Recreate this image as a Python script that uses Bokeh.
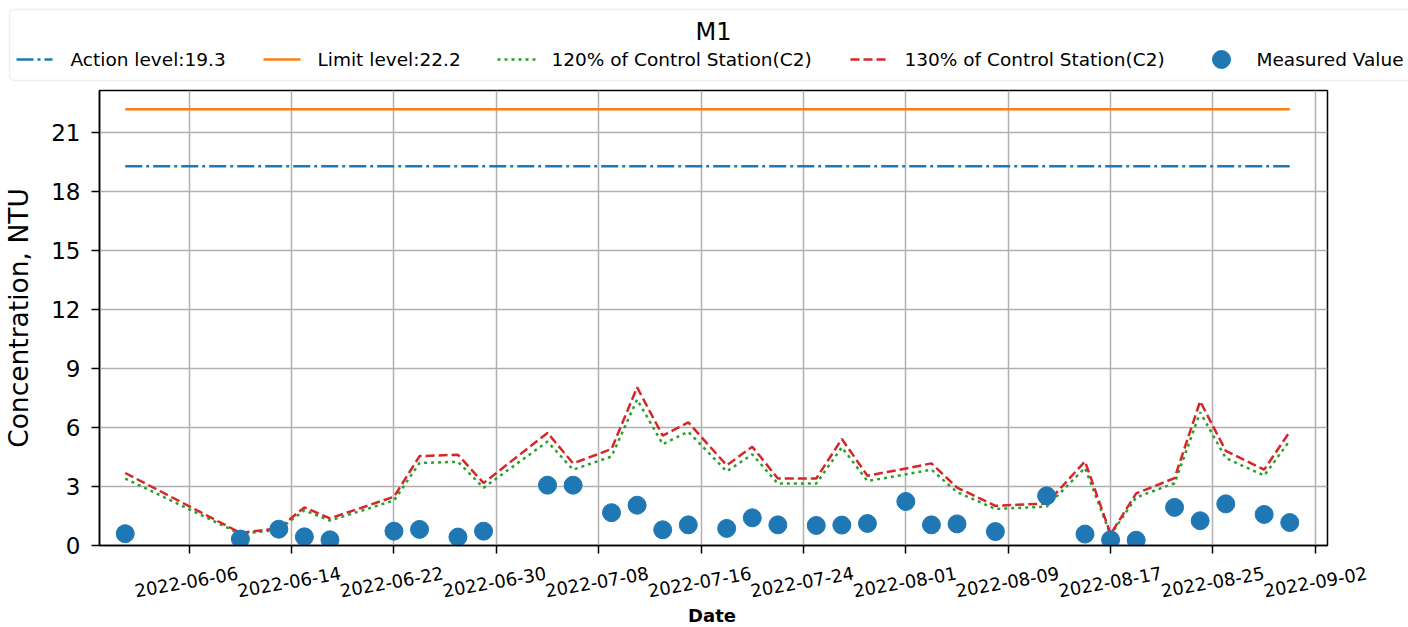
import math
import pandas as pd
from bokeh.plotting import figure
from bokeh.models import Range1d, FixedTicker, BoxAnnotation, CustomJSTickFormatter
from bokeh.layouts import column, row
from bokeh.embed import file_html
from bokeh.resources import INLINE
from bokeh.core.properties import value

# ---------------- data ----------------
chart_title = "M1"
dates = ["2022-06-01", "2022-06-10", "2022-06-13", "2022-06-15", "2022-06-17",
         "2022-06-22", "2022-06-24", "2022-06-27", "2022-06-29", "2022-07-04",
         "2022-07-06", "2022-07-09", "2022-07-11", "2022-07-13", "2022-07-15",
         "2022-07-18", "2022-07-20", "2022-07-22", "2022-07-25", "2022-07-27",
         "2022-07-29", "2022-08-01", "2022-08-03", "2022-08-05", "2022-08-08",
         "2022-08-12", "2022-08-15", "2022-08-17", "2022-08-19", "2022-08-22",
         "2022-08-24", "2022-08-26", "2022-08-29", "2022-08-31"]
measured = [0.60, 0.33, 0.83, 0.44, 0.29, 0.73, 0.82, 0.43, 0.73, 3.07,
            3.07, 1.67, 2.05, 0.80, 1.05, 0.87, 1.41, 1.05, 1.02, 1.04,
            1.12, 2.24, 1.05, 1.10, 0.71, 2.53, 0.58, 0.29, 0.27, 1.94,
            1.26, 2.12, 1.58, 1.17]
c2_120 = [3.41, 0.59, 0.81, 1.79, 1.27, 2.29, 4.20, 4.26, 2.94, 5.29,
          3.86, 4.53, 7.43, 5.16, 5.79, 3.77, 4.64, 3.15, 3.15, 5.00,
          3.28, 3.62, 3.86, 2.72, 1.86, 1.98, 3.95, 0.54, 2.45, 3.17,
          6.78, 4.45, 3.56, 5.34]
c2_130 = [3.69, 0.64, 0.88, 1.94, 1.38, 2.48, 4.55, 4.62, 3.18, 5.73,
          4.18, 4.91, 8.05, 5.59, 6.27, 4.08, 5.03, 3.41, 3.41, 5.42,
          3.55, 3.92, 4.18, 2.95, 2.02, 2.14, 4.28, 0.58, 2.65, 3.43,
          7.34, 4.82, 3.86, 5.79]
action_level = 19.3
limit_level = 22.2
legend_labels = ["Action level:19.3", "Limit level:22.2",
                 "120% of Control Station(C2)", "130% of Control Station(C2)",
                 "Measured Value"]
x_tick_labels = ["2022-06-06", "2022-06-14", "2022-06-22", "2022-06-30",
                 "2022-07-08", "2022-07-16", "2022-07-24", "2022-08-01",
                 "2022-08-09", "2022-08-17", "2022-08-25", "2022-09-02"]
y_ticks = [0, 3, 6, 9, 12, 15, 18, 21]
x_label = "Date"
y_label = "Concentration, NTU"

# ---------------- helpers ----------------
FONT = "DejaVu Sans"
BLUE, ORANGE, GREEN, RED = "#1f77b4", "#ff7f0e", "#2ca02c", "#d62728"
EPOCH = pd.Timestamp("1970-01-01")
DAY_MS = 86400000.0
LW = 2.5


def to_ms(s):
    return (pd.Timestamp(s) - EPOCH) / pd.Timedelta(milliseconds=1)


date_ms = [to_ms(d) for d in dates]
xt_ms = [to_ms(d) for d in x_tick_labels]
x0 = to_ms("2022-06-06") - 7.01 * DAY_MS
x1 = to_ms("2022-06-06") + 88.95 * DAY_MS
y_top = 23.16

# geometry (page pixels; bokeh page has no body margin)
TOTAL_W = 1408
LEG_H = 88
LEFT_W = 48
BORDER_L = 48
BORDER_R = 81
MAIN_W = TOTAL_W - LEFT_W
BORDER_T = 2
FRAME_H = 455
BORDER_B = 15
MAIN_H = BORDER_T + FRAME_H + BORDER_B
BOT_H = 627 - LEG_H - MAIN_H
FRAME_W = MAIN_W - BORDER_L - BORDER_R


def blank(fig):
    fig.outline_line_color = None
    fig.background_fill_color = "white"
    fig.border_fill_color = "white"
    return fig


# ---------------- legend figure ----------------
lg = blank(figure(width=TOTAL_W, height=LEG_H, x_range=Range1d(0, TOTAL_W),
                  y_range=Range1d(LEG_H, 0), x_axis_type=None, y_axis_type=None,
                  output_backend="svg", toolbar_location=None, min_border=0,
                  frame_align=False))
lg.add_layout(BoxAnnotation(left=9, right=1450, top=9, bottom=80, fill_color=None,
                            line_color="#cccccc", line_width=1.5, border_radius=5))
ly = 59
lg.line([16, 52], [ly, ly], color=BLUE, line_width=LW, line_dash="17 4 3 4")
lg.line([263, 300], [ly, ly], color=ORANGE, line_width=LW)
lg.line([497, 535], [ly, ly], color=GREEN, line_width=LW, line_dash="3 4")
lg.line([850, 888], [ly, ly], color=RED, line_width=LW, line_dash="9 4")
lg.scatter([1221], [ly], size=18, color=BLUE)
lg.text(x=[70, 317, 551, 904, 1256], y=[ly] * 5, text=legend_labels,
        text_font=value(FONT), text_font_size="18.5px", text_color="black",
        text_baseline="middle", text_align="left")
lg.text(x=[713], y=[31], text=[chart_title], text_font=value(FONT),
        text_font_size="24px", text_color="black", text_baseline="middle",
        text_align="center")

# ---------------- main figure ----------------
y_range = Range1d(0, y_top)
p = figure(width=MAIN_W, height=MAIN_H, x_axis_type="datetime",
           x_range=Range1d(x0, x1), y_range=y_range,
           output_backend="svg", toolbar_location=None,
           min_border_left=BORDER_L, min_border_right=BORDER_R, min_border_top=BORDER_T,
           min_border_bottom=BORDER_B, frame_align=False)
p.background_fill_color = "white"
p.border_fill_color = "white"
p.outline_line_color = "black"
p.outline_line_width = 1.5
p.outline_line_alpha = 1.0

xt = FixedTicker(ticks=xt_ms)
yt = FixedTicker(ticks=y_ticks)
p.xaxis.ticker = xt
p.yaxis.ticker = yt
p.xgrid.ticker = xt
p.ygrid.ticker = yt
for g in (p.xgrid, p.ygrid):
    g.grid_line_color = "#b0b0b0"
    g.grid_line_width = 1.5

p.xaxis.formatter = CustomJSTickFormatter(code="return ''")
p.xaxis.major_label_text_font_size = "0px"
p.xaxis.major_label_standoff = 0
for ax in (p.xaxis, p.yaxis):
    ax.axis_line_color = "black"
    ax.axis_line_width = 1.5
    ax.major_tick_line_color = "black"
    ax.major_tick_line_width = 1.5
    ax.major_tick_out = 8
    ax.major_tick_in = 0
    ax.minor_tick_out = 0
    ax.minor_tick_in = 0
p.yaxis.major_label_text_font = FONT
p.yaxis.major_label_text_font_size = "23px"
p.yaxis.major_label_text_color = "black"
p.yaxis.major_label_standoff = 11

p.line([date_ms[0], date_ms[-1]], [action_level, action_level], color=BLUE,
       line_width=LW, line_dash="17 4 3 4")
p.line([date_ms[0], date_ms[-1]], [limit_level, limit_level], color=ORANGE,
       line_width=LW)
p.line(date_ms, c2_120, color=GREEN, line_width=LW, line_dash="3 4")
p.line(date_ms, c2_130, color=RED, line_width=LW, line_dash="9 4")
p.scatter(date_ms, measured, size=18, color=BLUE)

# ---------------- left strip: y-axis title ----------------
lf = blank(figure(width=LEFT_W, height=MAIN_H, x_range=Range1d(0, LEFT_W), y_range=y_range,
                  x_axis_type=None, y_axis_type=None, output_backend="svg",
                  toolbar_location=None, min_border_left=0, min_border_right=0,
                  min_border_top=BORDER_T, min_border_bottom=BORDER_B, frame_align=False))
lf.text(x=[18], y=[y_top / 2], text=[y_label], angle=math.pi / 2,
        text_font=value(FONT), text_font_size="26.5px", text_color="black",
        text_align="center", text_baseline="middle")

# ---------------- bottom strip: tick labels + x-axis title ----------------
px_per_day = FRAME_W / ((x1 - x0) / DAY_MS)
bx0 = x0 - (LEFT_W + BORDER_L) / px_per_day * DAY_MS
bx1 = x1 + BORDER_R / px_per_day * DAY_MS
bt = blank(figure(width=TOTAL_W, height=BOT_H, x_range=Range1d(bx0, bx1),
                  y_range=Range1d(BOT_H, 0), x_axis_type=None, y_axis_type=None,
                  output_backend="svg", toolbar_location=None, min_border=0,
                  frame_align=False))
top_page = LEG_H + MAIN_H
bt.text(x=xt_ms, y=[581.5 - top_page] * len(xt_ms), text=x_tick_labels, angle=0.1745,
        text_font=value(FONT), text_font_size="18px", text_color="black",
        text_align="center", text_baseline="middle")
bt.text(x=[(x0 + x1) / 2], y=[615 - top_page], text=[x_label], text_font=value(FONT),
        text_font_size="18px", text_font_style="bold", text_color="black",
        text_align="center", text_baseline="middle")

layout = column(lg, row(lf, p, spacing=0), bt, spacing=0)
open("out.html", "w").write(file_html(layout, INLINE))
